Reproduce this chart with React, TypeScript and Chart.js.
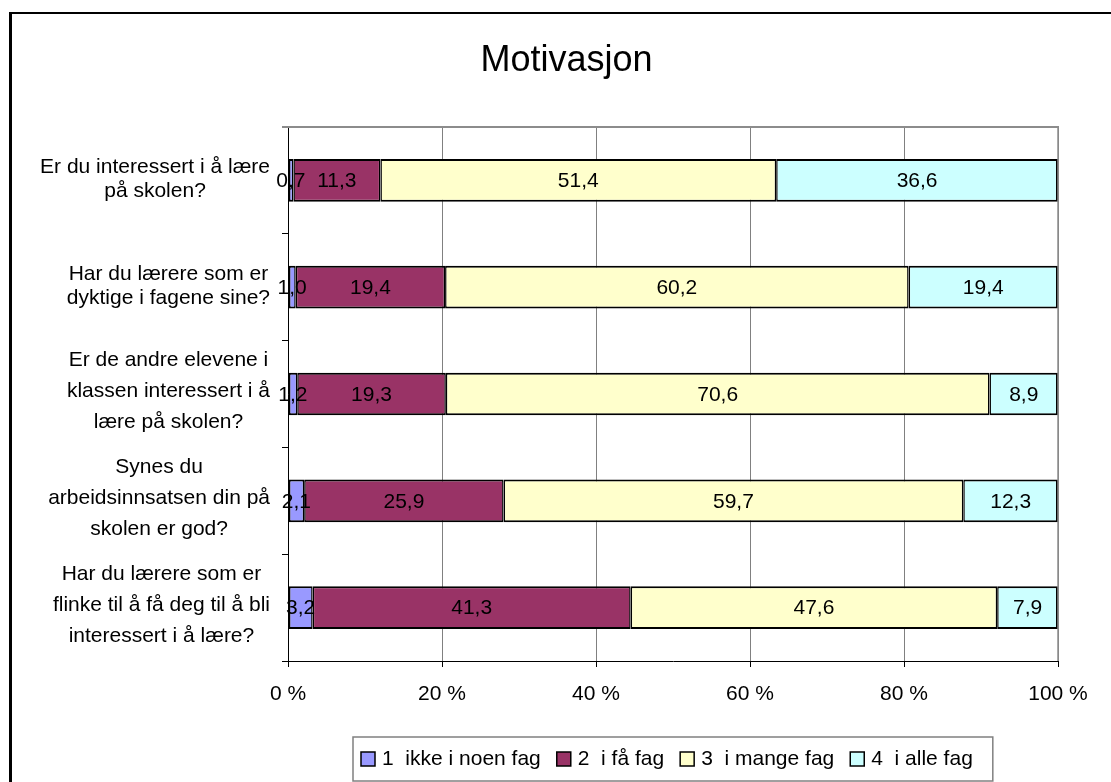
import React, { useEffect, useRef } from "react";
import { Chart, registerables } from "chart.js";

Chart.register(...registerables);

const FONT = "'Liberation Sans', Arial, Helvetica, sans-serif";

const chartTitle = "Motivasjon";

const questions: string[][] = [
  ["Er du interessert i å lære", "på skolen?"],
  ["Har du lærere som er", "dyktige i fagene sine?"],
  ["Er de andre elevene i", "klassen interessert i å", "lære på skolen?"],
  ["Synes du", "arbeidsinnsatsen din på", "skolen er god?"],
  ["Har du lærere som er", "flinke til å få deg til å bli", "interessert i å lære?"],
];

const seriesLabels = ["1  ikke i noen fag", "2  i få fag", "3  i mange fag", "4  i alle fag"];

const ikkeINoenFag = [0.7, 1.0, 1.2, 2.1, 3.2];
const iFaFag = [11.3, 19.4, 19.3, 25.9, 41.3];
const iMangeFag = [51.4, 60.2, 70.6, 59.7, 47.6];
const iAlleFag = [36.6, 19.4, 8.9, 12.3, 7.9];

const seriesColors = ["#9999FF", "#993366", "#FFFFCC", "#CCFFFF"];

const xMin = 0;
const xMax = 100;
const xStep = 20;

const W = 1133;
const H = 782;

const fmt = (v: number) => v.toFixed(1).replace(".", ",");

export default function App() {
  const ref = useRef<HTMLCanvasElement>(null);

  useEffect(() => {
    const canvas = ref.current;
    if (!canvas) return;
    const values = [ikkeINoenFag, iFaFag, iMangeFag, iAlleFag];
    const n = values.length;

    const datasets = values.map((data, i) => ({
      label: seriesLabels[i],
      data,
      backgroundColor: seriesColors[i],
      borderColor: "#000",
      borderWidth: { top: 2, bottom: 2, left: i === 0 ? 2 : 1.5, right: i === n - 1 ? 2 : 1.5 },
      borderSkipped: false as const,
      categoryPercentage: 0.4,
      barPercentage: 1,
    }));

    const titleDraw = {
      id: "titleDraw",
      afterDraw(chart: any) {
        const { ctx } = chart;
        ctx.save();
        ctx.font = `36px ${FONT}`;
        ctx.fillStyle = "#000";
        ctx.textAlign = "center";
        ctx.textBaseline = "middle";
        ctx.fillText(chartTitle, chart.width / 2, chart.chartArea.top - 66);
        ctx.restore();
      },
    };

    const plotFrame = {
      id: "plotFrame",
      afterDraw(chart: any) {
        const { ctx, chartArea: a } = chart;
        ctx.save();
        ctx.strokeStyle = "#8c8c8c";
        ctx.lineWidth = 2;
        ctx.beginPath();
        ctx.moveTo(a.left - 6, a.top);
        ctx.lineTo(a.right + 1, a.top);
        ctx.stroke();
        ctx.lineWidth = 1.5;
        ctx.beginPath();
        ctx.moveTo(a.right, a.top);
        ctx.lineTo(a.right, a.bottom);
        ctx.stroke();
        ctx.restore();
      },
    };

    const valueLabels = {
      id: "valueLabels",
      afterDatasetsDraw(chart: any) {
        const { ctx } = chart;
        ctx.save();
        ctx.font = `21px ${FONT}`;
        ctx.fillStyle = "#000";
        ctx.textAlign = "center";
        ctx.textBaseline = "middle";
        chart.data.datasets.forEach((ds: any, di: number) => {
          const meta = chart.getDatasetMeta(di);
          meta.data.forEach((el: any, i: number) => {
            const p = el.getProps(["x", "y", "base"], true);
            ctx.fillText(fmt(ds.data[i]), (p.x + p.base) / 2, p.y + 1);
          });
        });
        ctx.restore();
      },
    };

    const yLabels = {
      id: "yLabels",
      afterDraw(chart: any) {
        const { ctx } = chart;
        const ys = chart.scales.y;
        ctx.save();
        ctx.font = `21px ${FONT}`;
        ctx.fillStyle = "#000";
        ctx.textAlign = "center";
        ctx.textBaseline = "middle";
        const right = ys.right - 18;
        questions.forEach((lines, i) => {
          const three = lines.length > 2;
          const lh = three ? 31 : 24;
          const cy = ys.getPixelForValue(i) + (three ? -2.5 : -1);
          const widest = Math.max(...lines.map((l) => ctx.measureText(l).width));
          const cx = right - widest / 2;
          lines.forEach((l, j) => {
            ctx.fillText(l, cx, cy + (j - (lines.length - 1) / 2) * lh);
          });
        });
        ctx.restore();
      },
    };

    const boxedLegend = {
      id: "boxedLegend",
      afterDraw(chart: any) {
        const { ctx, chartArea: a } = chart;
        ctx.save();
        ctx.font = `21px ${FONT}`;
        const sq = 14;
        const gapText = 7;
        const gapItem = 16;
        const padL = 8;
        const padR = 20;
        const labels = chart.data.datasets.map((d: any) => d.label as string);
        const widths = labels.map((t: string) => ctx.measureText(t).width);
        const content =
          widths.reduce((s: number, w: number) => s + sq + gapText + w, 0) + gapItem * (labels.length - 1);
        const lw = content + padL + padR;
        const lh = 44;
        const lx = Math.round((a.left + a.right) / 2 - lw / 2);
        const ly = Math.round(a.bottom + 76);
        ctx.strokeStyle = "#808080";
        ctx.lineWidth = 1.5;
        ctx.strokeRect(lx, ly, lw, lh);
        const cy = ly + lh / 2;
        let x = lx + padL;
        ctx.textAlign = "left";
        ctx.textBaseline = "middle";
        labels.forEach((t: string, i: number) => {
          ctx.fillStyle = chart.data.datasets[i].backgroundColor;
          ctx.fillRect(x, cy - sq / 2, sq, sq);
          ctx.strokeStyle = "#000";
          ctx.lineWidth = 1.5;
          ctx.strokeRect(x, cy - sq / 2, sq, sq);
          ctx.fillStyle = "#000";
          ctx.fillText(t, x + sq + gapText, cy);
          x += sq + gapText + widths[i] + gapItem;
        });
        ctx.restore();
      },
    };

    const chart = new Chart(canvas, {
      type: "bar",
      data: {
        labels: questions.map((q) => q.join(" ")),
        datasets,
      },
      options: {
        indexAxis: "y",
        responsive: false,
        animation: false,
        devicePixelRatio: 1,
        layout: { padding: { top: 127, left: 0, right: W - 1058, bottom: 81 } },
        plugins: {
          legend: { display: false },
          tooltip: { enabled: false },
          title: { display: false },
        },
        scales: {
          x: {
            type: "linear",
            stacked: true,
            min: xMin,
            max: xMax,
            afterFit: (s: any) => {
              s.height = 40;
            },
            ticks: {
              stepSize: xStep,
              color: "#000",
              padding: 15,
              font: { family: FONT, size: 21 },
              callback: (v: any) => `${v} %`,
            },
            grid: {
              color: "#808080",
              lineWidth: 1,
              drawTicks: true,
              tickLength: 6,
              tickColor: "#000",
            },
            border: { display: true, color: "#000", width: 1 },
          },
          y: {
            type: "category",
            stacked: true,
            afterFit: (s: any) => {
              s.width = 288;
            },
            ticks: { display: false },
            grid: {
              display: true,
              offset: true,
              drawOnChartArea: false,
              drawTicks: true,
              tickLength: 6,
              color: "#000",
              tickColor: "#000",
            },
            border: { display: true, color: "#000", width: 1 },
          },
        },
      },
      plugins: [plotFrame, valueLabels, yLabels, boxedLegend, titleDraw],
    } as any);

    return () => chart.destroy();
  }, []);

  return (
    <div
      style={{
        position: "fixed",
        left: 0,
        top: 0,
        width: 1111,
        height: 782,
        overflow: "hidden",
        background: "#fff",
      }}
    >
      <div
        style={{
          position: "absolute",
          left: 9,
          top: 12,
          width: 1200,
          height: 900,
          borderLeft: "3px solid #000",
          borderTop: "2px solid #000",
          boxSizing: "border-box",
        }}
      />
      <canvas
        ref={ref}
        width={W}
        height={H}
        style={{ position: "absolute", left: 0, top: 0, width: W, height: H, display: "block" }}
      />
    </div>
  );
}
